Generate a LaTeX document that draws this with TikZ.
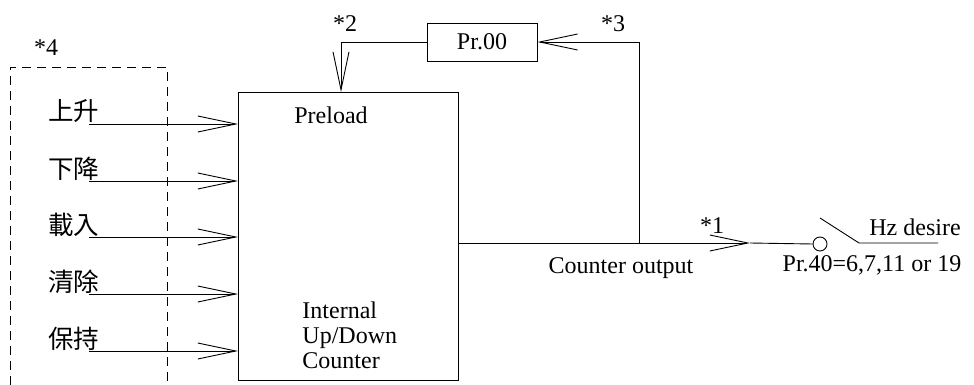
\documentclass[tikz,border=0pt]{standalone}
\usepackage{fontspec}
\setmainfont{Liberation Serif}
\newfontfamily\cjk{Noto Sans CJK TC}
\usetikzlibrary{arrows.meta}

\tikzset{
	sig/.style={-{Straight Barb[length=38pt,width=16pt]}},
	tag/.style={inner sep=0pt},
}

\begin{document}
\begin{tikzpicture}[x=1pt, y=-1pt, line width=0.9pt, font=\fontsize{24}{25}\selectfont]
	\useasboundingbox (0,0) rectangle (974,385);

	% dashed frame round the inputs (open at the bottom)
	\draw[dash pattern=on 9pt off 6pt] (10,385) -- (10,67) -- (167,67) -- (167,385);
	\node (n4) [tag] at (46,48) {*4};

	% counter block and preset box
	\node (cnt) [draw, inner sep=0pt, minimum width=220pt, minimum height=288pt, anchor=north west] at (238,92) {};
	\node (pre) [tag] at (331,115) {Preload};
	\node (ctr) [tag, align=left, anchor=north west] at (302,301) {Internal\\Up/Down\\Counter};
	\node (pr) [draw, inner sep=0pt, minimum width=110pt, minimum height=38pt] at (482,42) {Pr.00};

	% input signals
	\foreach \lbl/\yy [count=\i] in {上升/124, 下降/181, 載入/237, 清除/294, 保持/351} {
		\coordinate (in\i) at (89,\yy);
		\node (lab\i) [tag, anchor=base west, font=\cjk\fontsize{25.5}{26}\selectfont] at (48,\yy-3) {\lbl};
		\draw[sig] (in\i) -- (cnt.west |- in\i);
	}

	% output and feedback through Pr.00
	\coordinate (out) at (458,243);
	\coordinate (tap) at (639,243);
	\coordinate (tip) at (750,243);
	\draw (out) -- (tap);
	\draw[sig] (tap) -- (tip);
	\draw[sig] (tap) |- (pr.east);
	\draw[sig] (pr.west) -| ([xshift=103pt]cnt.north west);
	\node (n2) [tag] at (345,24) {*2};
	\node (n3) [tag] at (613,24) {*3};
	\node (n1) [tag] at (712,226) {*1};
	\node (cout) [tag] at (621,268) {Counter output};

	% selector switch
	\node (sw) [draw, circle, inner sep=0pt, minimum size=14pt] at (820,244) {};
	\coordinate (blade) at (820,218);
	\coordinate (pivot) at (859,243);
	\coordinate (hz) at (938,243);
	\draw (tip) -- (sw.west);
	\draw (blade) -- (pivot) -- (hz);
	\node (hzlab) [tag] at (915,227) {Hz desire};
	\node (cond) [tag] at (872,265) {Pr.40=6,7,11 or 19};
\end{tikzpicture}
\end{document}
